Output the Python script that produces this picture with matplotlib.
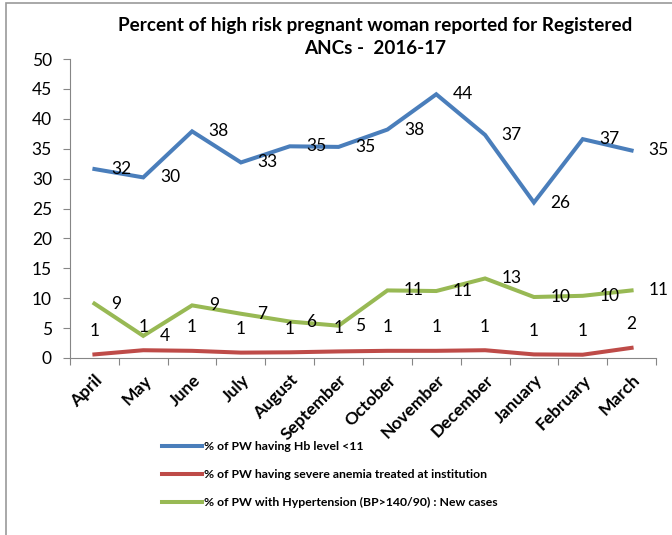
import matplotlib
matplotlib.use("Agg")
import matplotlib.pyplot as plt
from matplotlib.patches import Rectangle
import numpy as np

plt.rcParams['font.family'] = ['Lato', 'DejaVu Sans']

months = ['April', 'May', 'June', 'July', 'August', 'September', 'October',
          'November', 'December', 'January', 'February', 'March']
hb_low = [31.6, 30.2, 37.9, 32.7, 35.4, 35.3, 38.2, 44.1, 37.3, 26.0, 36.6, 34.7]
severe_anemia = [0.6, 1.3, 1.2, 0.9, 0.95, 1.1, 1.2, 1.2, 1.3, 0.6, 0.55, 1.7]
hypertension = [9.1, 3.7, 8.8, 7.4, 6.1, 5.4, 11.3, 11.2, 13.3, 10.2, 10.4, 11.3]

names = ['% of PW having Hb level <11',
         '% of PW having severe anemia treated at institution',
         '% of PW with Hypertension (BP>140/90) : New cases']
colors = ['#4A7EBB', '#BE4B48', '#98B954']

W, H = 672, 535
fig = plt.figure(figsize=(W / 100, H / 100), dpi=100)
ax = fig.add_axes([70 / W, 1 - 358 / H, (656 - 70) / W, (358 - 59) / H])

x = np.arange(len(months))
series = [hb_low, severe_anemia, hypertension]
for vals, name, c in zip(series, names, colors):
    ax.plot(x, vals, color=c, lw=2.9, label=name, solid_joinstyle='miter')

# data labels (right for blue/green, above for red)
for vals, pos in [(hb_low, 'right'), (hypertension, 'right'), (severe_anemia, 'above')]:
    for xi, v in zip(x, vals):
        if pos == 'right':
            ax.annotate(f"{v:.0f}", (xi, v), xytext=(12, 0), textcoords='offset points',
                        ha='left', va='center', fontsize=12.5)
        else:
            ax.annotate(f"{v:.0f}", (xi, v), xytext=(0, 17), textcoords='offset points',
                        ha='center', va='center', fontsize=12.5)

ax.set_xlim(-0.5, len(months) - 0.5)
ax.set_ylim(0, 50)
ax.set_yticks(np.arange(0, 51, 5))
ax.set_xticks(np.arange(-0.5, len(months), 1))
ax.set_xticklabels([])
ax.set_xticks(x, minor=True)
ax.set_xticklabels(months, minor=True, rotation=45, ha='right', va='top',
                   rotation_mode='anchor', fontsize=12.5, fontweight='bold')
ax.tick_params(axis='x', which='minor', length=0, pad=10)
ax.tick_params(axis='x', which='major', length=5, color='#868686', direction='out')
ax.tick_params(axis='y', length=5, color='#868686', labelsize=12.5, pad=8)
for s in ['top', 'right']:
    ax.spines[s].set_visible(False)
for s in ['left', 'bottom']:
    ax.spines[s].set_color('#868686')

fig.text(375 / W, 1 - 25 / H, 'Percent of high risk pregnant woman reported for Registered',
         ha='center', va='center', fontsize=13.6, fontweight='bold')
fig.text(375 / W, 1 - 48 / H, 'ANCs -  2016-17',
         ha='center', va='center', fontsize=13.6, fontweight='bold')

leg = fig.legend(loc='upper left', bbox_to_anchor=(151 / W, 1 - 430 / H), frameon=False,
                 prop={'weight': 'bold', 'size': 8.8}, handlelength=3.3,
                 handletextpad=0.1, labelspacing=1.4)

fig.patches.append(Rectangle((5.5 / W, -0.1), 1.2, (1 - 2.5 / H) + 0.1,
                             transform=fig.transFigure, fill=False,
                             edgecolor='#9a9a9a', lw=1.2))

fig.savefig('out.png', dpi=100)
